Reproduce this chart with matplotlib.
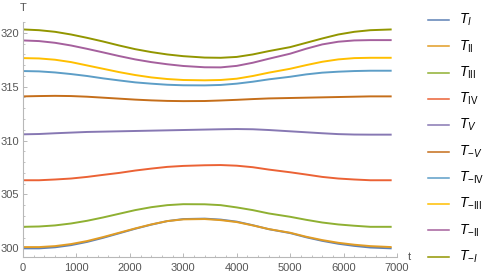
import matplotlib
matplotlib.use("Agg")
import matplotlib.pyplot as plt
from matplotlib.lines import Line2D
from matplotlib.ticker import MultipleLocator

plt.rcParams['font.family'] = ['Liberation Sans', 'DejaVu Sans']
plt.rcParams['mathtext.fontset'] = 'custom'
plt.rcParams['mathtext.rm'] = 'Liberation Sans'
plt.rcParams['mathtext.it'] = 'Liberation Sans:italic'

t = [0, 300, 600, 900, 1200, 1500, 1800, 2100, 2400, 2700, 3000, 3400,
     3700, 4000, 4300, 4600, 5000, 5300, 5600, 5900, 6200, 6500, 6900]

T_I    = [300.00, 300.00, 300.10, 300.30, 300.60, 300.98, 301.40, 301.82, 302.20, 302.53, 302.72, 302.76,
          302.67, 302.48, 302.15, 301.78, 301.42, 301.03, 300.70, 300.43, 300.23, 300.08, 300.00]
T_II   = [300.12, 300.12, 300.21, 300.40, 300.68, 301.05, 301.45, 301.85, 302.22, 302.53, 302.69, 302.72,
          302.62, 302.44, 302.13, 301.79, 301.45, 301.08, 300.77, 300.52, 300.34, 300.21, 300.12]
T_III  = [302.00, 302.03, 302.13, 302.31, 302.56, 302.87, 303.21, 303.55, 303.82, 304.01, 304.10, 304.09,
          304.01, 303.80, 303.55, 303.24, 302.93, 302.65, 302.40, 302.22, 302.10, 302.00, 302.00]
T_IV   = [306.32, 306.32, 306.39, 306.48, 306.63, 306.82, 307.00, 307.22, 307.40, 307.56, 307.65, 307.71,
          307.73, 307.67, 307.53, 307.31, 307.06, 306.85, 306.63, 306.48, 306.39, 306.32, 306.32]
T_V    = [310.58, 310.61, 310.68, 310.74, 310.80, 310.83, 310.86, 310.89, 310.92, 310.95, 310.98, 311.02,
          311.05, 311.07, 311.05, 310.98, 310.86, 310.77, 310.68, 310.60, 310.56, 310.55, 310.55]
T_mV   = [314.10, 314.13, 314.15, 314.13, 314.07, 313.98, 313.89, 313.80, 313.73, 313.68, 313.66, 313.67,
          313.72, 313.78, 313.85, 313.91, 313.95, 313.98, 314.01, 314.04, 314.07, 314.10, 314.10]
T_mIV  = [316.45, 316.42, 316.32, 316.17, 315.99, 315.77, 315.58, 315.40, 315.28, 315.18, 315.13, 315.12,
          315.16, 315.28, 315.46, 315.68, 315.92, 316.14, 316.30, 316.39, 316.45, 316.48, 316.48]
T_mIII = [317.65, 317.62, 317.50, 317.28, 316.97, 316.66, 316.35, 316.08, 315.86, 315.71, 315.62, 315.59,
          315.62, 315.74, 315.99, 316.30, 316.66, 317.00, 317.31, 317.53, 317.65, 317.68, 317.68]
T_mII  = [319.29, 319.23, 319.07, 318.82, 318.51, 318.18, 317.84, 317.53, 317.28, 317.08, 316.92, 316.80,
          316.79, 316.93, 317.22, 317.59, 318.06, 318.52, 318.92, 319.17, 319.29, 319.32, 319.32]
T_mI   = [320.31, 320.24, 320.09, 319.84, 319.53, 319.19, 318.82, 318.48, 318.21, 317.99, 317.83, 317.70,
          317.68, 317.76, 317.99, 318.30, 318.67, 319.07, 319.47, 319.84, 320.09, 320.24, 320.31]

series = [T_I, T_II, T_III, T_IV, T_V, T_mV, T_mIV, T_mIII, T_mII, T_mI]
labels = [r'$T_{I}$', r'$T_{\mathrm{II}}$', r'$T_{\mathrm{III}}$', r'$T_{\mathrm{IV}}$', r'$T_{V}$',
          r'$T_{-V}$', r'$T_{-\mathrm{IV}}$', r'$T_{-\mathrm{III}}$', r'$T_{-\mathrm{II}}$', r'$T_{-I}$']
colors = ['#5E81B5', '#E19C24', '#8FB032', '#EB6235', '#8778B3',
          '#C56E1A', '#5D9EC7', '#FFBF00', '#A5609D', '#929600']

W, H = 491, 279
fig = plt.figure(figsize=(W / 100, H / 100), dpi=100)
ax = fig.add_axes([23 / W, (H - 257) / H, 374 / W, 235 / H])

for ys, c in zip(series, colors):
    ax.plot(t, ys, color=c, lw=1.4, solid_capstyle='butt', solid_joinstyle='round')

ax.set_xlim(0, 7000)
ax.set_ylim(299.2, 321.0)
ax.xaxis.set_major_locator(MultipleLocator(1000))
ax.xaxis.set_minor_locator(MultipleLocator(200))
ax.yaxis.set_major_locator(MultipleLocator(5))
ax.yaxis.set_minor_locator(MultipleLocator(1))

for s in ['top', 'right']:
    ax.spines[s].set_visible(False)
for s in ['left', 'bottom']:
    ax.spines[s].set_color('#b8b8b8')
    ax.spines[s].set_linewidth(0.8)

ax.tick_params(which='both', direction='in', color='#b8b8b8', labelcolor='#555555', labelsize=8)
ax.tick_params(which='major', length=3, width=0.7)
ax.tick_params(which='minor', length=1.6, width=0.6)
ax.tick_params(axis='x', pad=4)
ax.tick_params(axis='y', pad=2.5)

ax.text(0, 1.06, 'T', transform=ax.transAxes, ha='center', va='center', fontsize=8, color='#555555')
ax.text(1.032, 0.0, 't', transform=ax.transAxes, ha='center', va='center', fontsize=8, color='#555555')

# legend drawn by hand on the right
for i, (lab, c) in enumerate(zip(labels, colors)):
    yp = 1 - (20 + 26.3 * i) / H
    fig.add_artist(Line2D([428 / W, 449 / W], [yp, yp], color=c, lw=1.1, transform=fig.transFigure))
    fig.text(459 / W, yp, lab, ha='left', va='center', fontsize=10, color='black')

fig.savefig('out.png', dpi=100)
